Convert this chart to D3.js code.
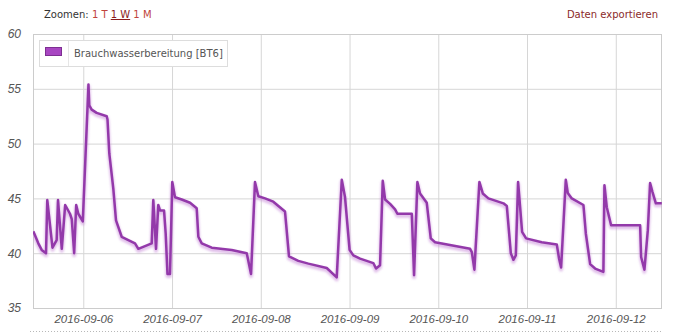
<!DOCTYPE html>
<html>
<head>
<meta charset="utf-8">
<script src="https://cdn.jsdelivr.net/npm/d3@7"></script>
<style>
  html, body { margin: 0; padding: 0; background: #fff; }
  svg { display: block; }
  .hdr { font-family: "DejaVu Sans", Verdana, sans-serif; font-size: 10px; }
  .tick text { font-family: "Liberation Sans", Arial, sans-serif; font-style: italic; fill: #555; }
</style>
</head>
<body>
<svg id="chart" width="677" height="334"></svg>
<script>
// Hot-water temperature readings (BT6), one week
const seriesName = "Brauchwasserbereitung [BT6]";
const times = [
  "2016-09-05T10:29","2016-09-05T11:50","2016-09-05T12:45","2016-09-05T13:55","2016-09-05T14:16",
  "2016-09-05T15:40","2016-09-05T16:48","2016-09-05T17:10","2016-09-05T18:11","2016-09-05T19:06",
  "2016-09-05T20:24","2016-09-05T20:53","2016-09-05T21:32","2016-09-05T22:05","2016-09-05T22:39",
  "2016-09-05T23:52","2016-09-06T01:24","2016-09-06T01:37","2016-09-06T02:16","2016-09-06T03:37",
  "2016-09-06T06:20","2016-09-06T06:33","2016-09-06T07:02","2016-09-06T08:07","2016-09-06T08:51",
  "2016-09-06T10:23","2016-09-06T13:59","2016-09-06T14:53","2016-09-06T18:30","2016-09-06T18:56",
  "2016-09-06T19:40","2016-09-06T20:17","2016-09-06T20:45","2016-09-06T21:50","2016-09-06T22:17",
  "2016-09-06T22:46","2016-09-06T23:27","2016-09-07T00:04","2016-09-07T00:48","2016-09-07T02:37",
  "2016-09-07T04:52","2016-09-07T06:40","2016-09-07T07:07","2016-09-07T08:02","2016-09-07T10:44",
  "2016-09-07T16:08","2016-09-07T20:12","2016-09-07T21:22","2016-09-07T22:26","2016-09-07T23:20",
  "2016-09-08T01:09","2016-09-08T03:23","2016-09-08T06:33","2016-09-08T07:38","2016-09-08T10:09",
  "2016-09-08T12:52","2016-09-08T17:50","2016-09-08T20:32","2016-09-08T21:54","2016-09-08T22:47",
  "2016-09-09T00:01","2016-09-09T01:02","2016-09-09T02:51","2016-09-09T06:26","2016-09-09T07:10",
  "2016-09-09T08:15","2016-09-09T08:59","2016-09-09T09:37","2016-09-09T10:58","2016-09-09T12:19",
  "2016-09-09T12:56","2016-09-09T16:50","2016-09-09T17:27","2016-09-09T18:21","2016-09-09T19:04",
  "2016-09-09T20:53","2016-09-09T21:58","2016-09-09T23:08","2016-09-10T08:36","2016-09-10T09:04",
  "2016-09-10T09:46","2016-09-10T11:07","2016-09-10T12:02","2016-09-10T13:33","2016-09-10T17:37",
  "2016-09-10T18:32","2016-09-10T19:37","2016-09-10T20:19","2016-09-10T20:58","2016-09-10T21:35",
  "2016-09-10T22:40","2016-09-10T23:45","2016-09-11T03:59","2016-09-11T08:03","2016-09-11T08:40",
  "2016-09-11T09:13","2016-09-11T10:29","2016-09-11T11:01","2016-09-11T12:06","2016-09-11T15:15",
  "2016-09-11T15:54","2016-09-11T17:04","2016-09-11T18:25","2016-09-11T20:39","2016-09-11T20:56",
  "2016-09-11T21:34","2016-09-11T22:44","2016-09-12T06:35","2016-09-12T06:51","2016-09-12T07:45",
  "2016-09-12T08:40","2016-09-12T09:17","2016-09-12T09:55","2016-09-12T10:50","2016-09-12T12:27"
];
const values = [
  42.0, 40.9, 40.3, 40.0, 44.85,
  40.5, 41.2, 44.85, 40.4, 44.4,
  43.6, 43.1, 40.0, 44.4, 43.6,
  42.9, 55.4, 53.5, 53.1, 52.8,
  52.5, 52.2, 49.1, 45.9, 43.0,
  41.5, 40.9, 40.4, 40.9, 44.85,
  40.4, 44.4, 43.9, 43.9, 41.8,
  38.1, 38.1, 46.5, 45.1, 44.9,
  44.6, 44.1, 41.5, 40.9, 40.5,
  40.3, 40.0, 38.1, 46.5, 45.2,
  45.0, 44.7, 43.8, 39.7, 39.3,
  39.05, 38.65, 37.8, 46.7, 45.1,
  40.3, 39.8, 39.5, 39.1, 38.6,
  38.9, 46.6, 44.9, 44.5, 44.0,
  43.6, 43.6, 38.0, 46.5, 45.45,
  44.6, 41.35, 41.0, 40.4, 40.1,
  38.5, 46.5, 45.45, 45.0, 44.55,
  44.3, 40.0, 39.4, 39.8, 46.5,
  41.95, 41.35, 41.0, 40.8, 39.5,
  38.7, 46.7, 45.5, 45.0, 44.4,
  41.8, 39.0, 38.6, 38.3, 46.2,
  44.2, 42.55, 42.55, 39.65, 38.5,
  42.1, 46.4, 45.6, 44.55, 44.55
];
const dayTicks = ["2016-09-06","2016-09-07","2016-09-08","2016-09-09","2016-09-10","2016-09-11","2016-09-12"];
const yTicks = [35, 40, 45, 50, 55, 60];
const zoomLinks = ["1 T", "1 W", "1 M"];

const parseT = d3.timeParse("%Y-%m-%dT%H:%M");
const parseD = d3.timeParse("%Y-%m-%d");
const data = times.map((t, i) => ({ t: parseT(t), v: values[i] }));

const svg = d3.select("#chart");
const plot = { left: 33, right: 662, top: 34, bottom: 308 };

const x = d3.scaleTime()
  .domain([parseT("2016-09-05T10:24"), parseT("2016-09-12T12:30")])
  .range([plot.left, plot.right]);
const y = d3.scaleLinear().domain([35, 60]).range([plot.bottom, plot.top]);

// Header: zoom selector and export link
const hdr = svg.append("text").attr("class", "hdr").attr("x", 44).attr("y", 18).attr("xml:space", "preserve");
hdr.append("tspan").attr("fill", "#333").text("Zoomen:");
zoomLinks.forEach(z => {
  hdr.append("tspan").text(" ");
  const sp = hdr.append("tspan").text(z);
  if (z === "1 W") sp.attr("fill", "#8b1c1c").attr("text-decoration", "underline");
  else sp.attr("fill", "#c0443c");
});
svg.append("text").attr("class", "hdr").attr("x", 658).attr("y", 18)
  .attr("text-anchor", "end").attr("fill", "#8b2a2a").text("Daten exportieren");

// Vertical day gridlines
svg.append("g")
  .attr("transform", `translate(0,${plot.bottom})`)
  .call(d3.axisBottom(x).tickValues(dayTicks.map(parseD))
    .tickSize(-(plot.bottom - plot.top)).tickFormat(d3.timeFormat("%Y-%m-%d")))
  .call(g => g.select(".domain").remove())
  .call(g => g.selectAll(".tick line").attr("stroke", "#d6d6d6"))
  .call(g => g.selectAll(".tick text").attr("y", 11).attr("dy", "0.35em")
    .attr("font-size", 11.5));

// Horizontal gridlines and y labels
svg.append("g")
  .attr("transform", `translate(${plot.left},0)`)
  .call(d3.axisLeft(y).tickValues(yTicks).tickSize(-(plot.right - plot.left)).tickPadding(12))
  .call(g => g.select(".domain").remove())
  .call(g => g.selectAll(".tick line").attr("stroke", "#d6d6d6"))
  .call(g => g.selectAll(".tick text").attr("font-size", 12));

// Plot frame
svg.append("rect")
  .attr("x", plot.left + 0.5).attr("y", plot.top + 0.5)
  .attr("width", plot.right - plot.left - 1).attr("height", plot.bottom - plot.top)
  .attr("fill", "none").attr("stroke", "#cccccc");

// Dotted footer rule
svg.append("line")
  .attr("x1", 30).attr("x2", 662).attr("y1", 331.5).attr("y2", 331.5)
  .attr("stroke", "#b8b8b8").attr("stroke-dasharray", "1,2");

// Series line with soft shadow
const defs = svg.append("defs");
defs.append("filter").attr("id", "soft").attr("x", "-5%").attr("y", "-5%").attr("width", "110%").attr("height", "110%")
  .append("feGaussianBlur").attr("stdDeviation", 1);
defs.append("clipPath").attr("id", "clip").append("rect")
  .attr("x", plot.left).attr("y", plot.top).attr("width", plot.right - plot.left).attr("height", plot.bottom - plot.top);

const line = d3.line().x(d => x(d.t)).y(d => y(d.v));
const gLine = svg.append("g").attr("clip-path", "url(#clip)");
gLine.append("path").datum(data)
  .attr("d", line).attr("fill", "none")
  .attr("stroke", "#c98ad8").attr("stroke-opacity", 0.55).attr("stroke-width", 4)
  .attr("stroke-linejoin", "round").attr("transform", "translate(0,2)")
  .attr("filter", "url(#soft)");
gLine.append("path").datum(data)
  .attr("d", line).attr("fill", "none")
  .attr("stroke", "#9339aa").attr("stroke-width", 2.5)
  .attr("stroke-linejoin", "round");

// Legend
const lg = svg.append("g");
lg.append("rect").attr("x", 39.5).attr("y", 40.5).attr("width", 188).attr("height", 26)
  .attr("fill", "#fff").attr("stroke", "#dddddd");
lg.append("line").attr("x1", 68.5).attr("x2", 68.5).attr("y1", 41).attr("y2", 66)
  .attr("stroke", "#e6e6e6");
lg.append("rect").attr("x", 45.5).attr("y", 47.5).attr("width", 16).attr("height", 8)
  .attr("fill", "#a846c2").attr("stroke", "#7e2f92");
lg.append("text").attr("class", "hdr").attr("x", 74).attr("y", 57)
  .attr("fill", "#555").text(seriesName);
</script>
</body>
</html>
